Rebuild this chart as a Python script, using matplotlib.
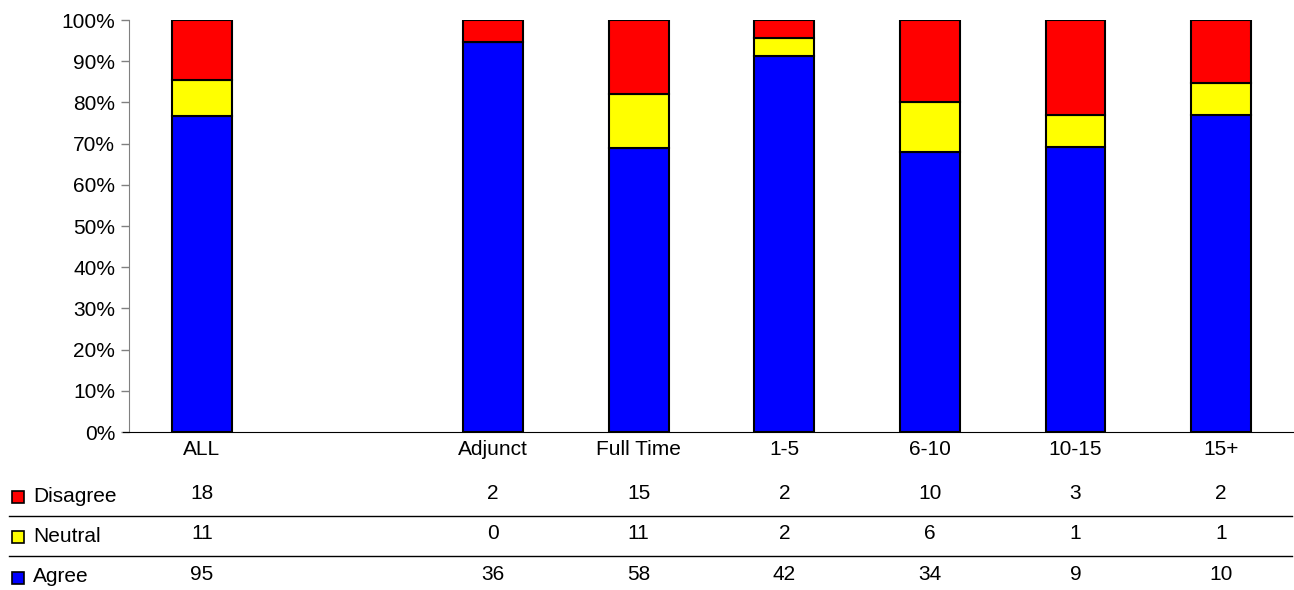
import matplotlib.pyplot as plt
import numpy as np
from matplotlib.transforms import blended_transform_factory
from matplotlib.lines import Line2D

plt.rcParams['font.family'] = ['Liberation Sans', 'DejaVu Sans']

cats     = ['ALL', '', 'Adjunct', 'Full Time', '1-5', '6-10', '10-15', '15+']
disagree = [18, None, 2, 15, 2, 10, 3, 2]
neutral  = [11, None, 0, 11, 2, 6, 1, 1]
agree    = [95, None, 36, 58, 42, 34, 9, 10]

series = [('Agree', agree, '#0000ff'),
          ('Neutral', neutral, '#ffff00'),
          ('Disagree', disagree, '#ff0000')]

x = np.arange(len(cats))
has = np.array([a is not None for a in agree])
tot = np.array([(a or 0) + (n or 0) + (d or 0) for a, n, d in zip(agree, neutral, disagree)], float)
tot[tot == 0] = 1

fig = plt.figure(figsize=(12.94, 5.9), dpi=100)
ax = fig.add_axes([129 / 1294, (590 - 432) / 590, (1294 - 129) / 1294, 412 / 590])

bottom = np.zeros(len(cats))
for name, vals, col in series:
    v = np.array([0 if q is None else q for q in vals], float) / tot
    ax.bar(x[has], v[has], 0.41, bottom=bottom[has], color=col, edgecolor='black',
           linewidth=1.5, zorder=3)
    bottom += v

ax.set_xlim(-0.5, len(cats) - 0.5)
ax.set_ylim(0, 1)
ax.set_yticks(np.arange(0, 1.01, 0.1))
ax.set_yticklabels([f'{int(round(t * 100))}%' for t in np.arange(0, 1.01, 0.1)], fontsize=15)
ax.set_xticks(x)
ax.set_xticklabels(cats, fontsize=15)
ax.tick_params(axis='x', length=0, pad=6)
ax.tick_params(axis='y', length=6, color='#808080', width=1, pad=4)
for s in ['top', 'right']:
    ax.spines[s].set_visible(False)
ax.spines['left'].set_color('#808080')
ax.spines['bottom'].set_color('black')
ax.spines['bottom'].set_bounds(-0.5 - 6 / 145.6, len(cats) - 0.5)
ax.spines['bottom'].set_clip_on(False)

# data table under the chart
tr = blended_transform_factory(ax.transData, fig.transFigure)
rows = [('Disagree', disagree, '#ff0000', 496),
        ('Neutral', neutral, '#ffff00', 536),
        ('Agree', agree, '#0000ff', 577)]
for name, vals, col, ypix in rows:
    yf = 1 - ypix / 590
    fig.add_artist(Line2D([18 / 1294], [yf - 0.002], marker='s', markersize=9,
                          markerfacecolor=col, markeredgecolor='black', markeredgewidth=1.2,
                          linestyle='none', transform=fig.transFigure))
    fig.text(33 / 1294, yf, name, fontsize=15, va='center', ha='left')
    for xi, v in zip(x, vals):
        if v is not None:
            ax.text(xi, yf + 0.004, str(v), fontsize=15, ha='center', va='center',
                    transform=tr, clip_on=False)

for ypix in [516, 556]:
    yf = 1 - ypix / 590
    fig.add_artist(Line2D([9 / 1294, 1292 / 1294], [yf, yf], color='black', linewidth=1,
                          transform=fig.transFigure))

fig.savefig('out.png', dpi=100)
